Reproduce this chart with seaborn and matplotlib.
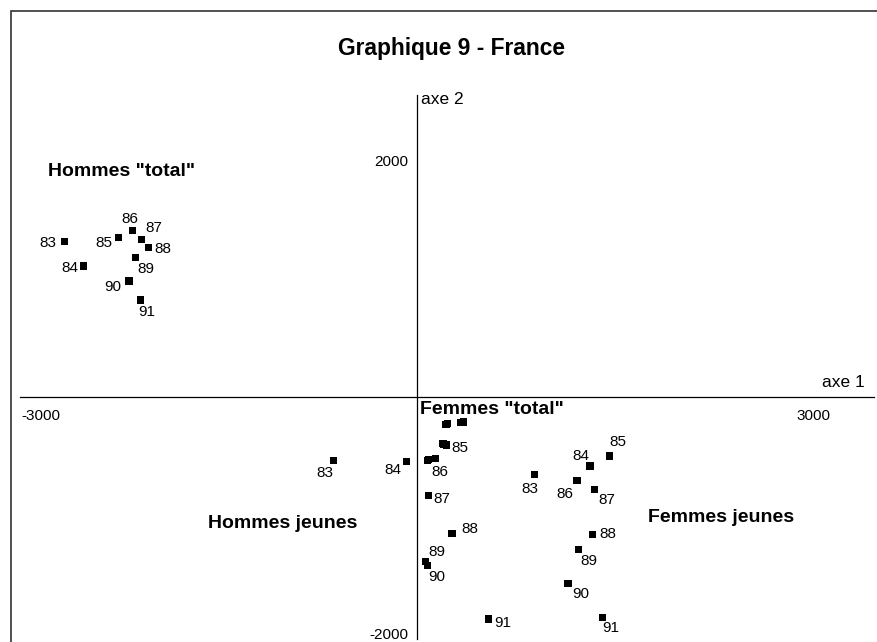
import matplotlib
matplotlib.use("Agg")
import matplotlib.pyplot as plt
import pandas as pd
import seaborn as sns
from matplotlib.patches import Rectangle

# ───────────────────────── data ─────────────────────────
years = ["83", "84", "85", "86", "87", "88", "89", "90", "91"]

hommes_total_x = [-2667, -2523, -2260, -2157, -2086, -2036, -2129, -2182, -2093]
hommes_total_y = [1316, 1110, 1353, 1409, 1336, 1269, 1184, 983, 822]

hommes_jeunes_x = [-629, -76, 225, 139, 89, 265, 68, 78, 545]
hommes_jeunes_y = [-542, -545, -407, -525, -831, -1155, -1396, -1424, -1881]

# unlabelled on the chart, several points overlap
femmes_total_x = [78, 192, 220, 333, 351, 85, 200, 228, 342]
femmes_total_y = [-536, -392, -231, -218, -212, -530, -398, -226, -215]

femmes_jeunes_x = [892, 1311, 1457, 1212, 1343, 1331, 1225, 1144, 1402]
femmes_jeunes_y = [-658, -585, -500, -706, -782, -1164, -1291, -1579, -1870]

groups = ["Hommes total", "Hommes jeunes", "Femmes total", "Femmes jeunes"]

# label offsets in pixels (dx right, dy down), per group
LABEL_OFFSETS = {
    "Hommes total": [(-17, 1), (-14, 2), (-15, 6), (-2, -12), (12, -11),
                     (15, 2), (10, 12), (-16, 6), (6, 12)],
    "Hommes jeunes": [(-9, 12), (-14, 9), (13, 3), (5, 13), (13, 4),
                      (18, -4), (11, -10), (9, 12), (14, 4)],
    "Femmes jeunes": [(-5, 14), (-9, -10), (9, -14), (-12, 14), (13, 11),
                      (15, 0), (10, 12), (13, 11), (9, 10)],
}

df = pd.concat([
    pd.DataFrame({"axe1": hommes_total_x, "axe2": hommes_total_y, "annee": years, "groupe": "Hommes total"}),
    pd.DataFrame({"axe1": hommes_jeunes_x, "axe2": hommes_jeunes_y, "annee": years, "groupe": "Hommes jeunes"}),
    pd.DataFrame({"axe1": femmes_total_x, "axe2": femmes_total_y, "annee": years, "groupe": "Femmes total"}),
    pd.DataFrame({"axe1": femmes_jeunes_x, "axe2": femmes_jeunes_y, "annee": years, "groupe": "Femmes jeunes"}),
], ignore_index=True)

# ───────────────────────── figure ─────────────────────────
sns.set_theme(style="white", rc={"text.color": "black", "axes.labelcolor": "black",
                                 "xtick.color": "black", "ytick.color": "black"})
plt.rcParams["font.family"] = ["Liberation Sans", "DejaVu Sans"]

fig = plt.figure(figsize=(8.78, 6.42), dpi=100)
ax = fig.add_axes([0.0224, 0.0048, 0.9727, 0.8474])

sns.scatterplot(
    data=df, x="axe1", y="axe2", hue="groupe",
    palette={g: "black" for g in groups},
    marker="s", s=26, linewidth=0, legend=False, ax=ax,
)

for grp, offsets in LABEL_OFFSETS.items():
    sub = df[df["groupe"] == grp].reset_index(drop=True)
    for i, row in sub.iterrows():
        dx, dy = offsets[i]
        ax.annotate(row["annee"], (row["axe1"], row["axe2"]),
                    xytext=(dx, -dy), textcoords="offset pixels",
                    ha="center", va="center", fontsize=11, color="black")

# axes crossing at origin
ax.set_xlim(-3010, 3460)
ax.set_ylim(-2050, 2560)
for side in ("top", "right"):
    ax.spines[side].set_visible(False)
for side in ("left", "bottom"):
    ax.spines[side].set_position("zero")
    ax.spines[side].set_color("black")
    ax.spines[side].set_linewidth(0.9)

ax.set_xticks(range(-3000, 3001, 1000))
ax.set_xticklabels(["-3000", "", "", "", "", "", "3000"])
ax.set_yticks(range(-2000, 2001, 1000))
ax.set_yticklabels(["-2000", "", "", "", "2000"])
ax.get_xticklabels()[0].set_ha("left")
ax.tick_params(axis="both", direction="inout", length=7, width=0.9,
               colors="black", labelsize=11)
ax.tick_params(axis="x", pad=5)
ax.tick_params(axis="y", pad=3)
ax.set_xlabel("")
ax.set_ylabel("")
ax.patch.set_alpha(0)

ax.text(3068, 127, "axe 1", fontsize=12.5, ha="left", va="center", color="black")
ax.text(30, 2517, "axe 2", fontsize=12.5, ha="left", va="center", color="black")

grp_kw = dict(fontsize=14, fontweight="bold", ha="left", va="center", color="black")
ax.text(-2795, 1907, 'Hommes "total"', **grp_kw)
ax.text(23, -110, 'Femmes "total"', **grp_kw)
ax.text(-1583, -1068, "Hommes jeunes", **grp_kw)
ax.text(1750, -1017, "Femmes jeunes", **grp_kw)

fig.text(0.5137, 0.924, "Graphique 9 - France", fontsize=16.4,
         fontweight="bold", ha="center", va="center", color="black")

# chart frame (only top and left edges visible in the scan)
fig.patches.append(Rectangle((11 / 878, -0.1), 1.1, 1.1 - 11 / 642,
                             transform=fig.transFigure, fill=False,
                             lw=1.2, ec="#333333"))

fig.savefig("out.png", dpi=100)
